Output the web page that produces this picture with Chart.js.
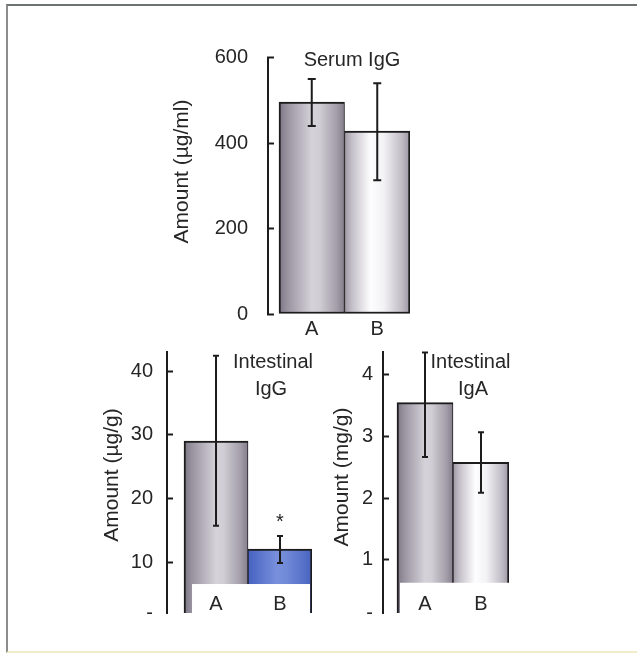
<!DOCTYPE html>
<html>
<head>
<meta charset="utf-8">
<script src="https://cdn.jsdelivr.net/npm/chart.js@4/dist/chart.umd.min.js"></script>
<style>
html,body{margin:0;padding:0;background:#fff;}
#page{position:relative;width:637px;height:655px;overflow:hidden;background:#fff;}
#frame{position:absolute;left:6px;top:4px;width:640px;height:649px;border-top:2px solid #6d7272;border-left:2px solid #8c8c8c;border-bottom:2px solid #f1ecc9;box-sizing:border-box;}
canvas{position:absolute;}
</style>
</head>
<body>
<div id="page">
  <div id="frame"></div>
  <canvas id="serum" width="290" height="305" style="left:150px;top:40px"></canvas>
  <canvas id="intIgG" width="260" height="280" style="left:80px;top:340px"></canvas>
  <canvas id="intIgA" width="240" height="280" style="left:300px;top:340px"></canvas>
</div>
<script>
// ---------- data ----------
const categories = ['A', 'B'];

const serumIgG      = [496, 428];
const serumIgGLow   = [440, 313];
const serumIgGHigh  = [550, 540];
const serumTicks      = [0, 200, 400, 600];
const serumTickLabels = ['0', '200', '400', '600'];

const intIgG      = [29.0, 12.05];
const intIgGLow   = [15.7, 9.85];
const intIgGHigh  = [42.4, 14.1];
const intIgGTicks      = [2, 10, 20, 30, 40];
const intIgGTickLabels = ['-', '10', '20', '30', '40'];

const intIgA      = [3.55, 2.58];
const intIgALow   = [2.67, 2.09];
const intIgAHigh  = [4.36, 3.07];
const intIgATicks      = [0.14, 1, 2, 3, 4];
const intIgATickLabels = ['-', '1', '2', '3', '4'];

const serumTitle   = ['Serum IgG'];
const intIgGTitle  = ['Intestinal', 'IgG'];
const intIgATitle  = ['Intestinal', 'IgA'];
const serumYTitle  = 'Amount (µg/ml)';
const intIgGYTitle = 'Amount (µg/g)';
const intIgAYTitle = 'Amount (mg/g)';
const significance = '*';

// ---------- styles ----------
const FONT = '"Liberation Sans", Arial, Helvetica, sans-serif';
const INK = '#262626';
const LINE = '#1c1c1c';
Chart.defaults.font.family = FONT;
Chart.defaults.color = INK;

const fills = {
  gray:  [[0,'#7b7484'],[0.12,'#98929f'],[0.5,'#d5d2d9'],[0.62,'#d0cdd4'],[0.88,'#a39ea9'],[1,'#847d8c']],
  light: [[0,'#9d98a4'],[0.12,'#c5c1ca'],[0.4,'#fdfdfe'],[0.6,'#f2f1f4'],[0.88,'#bfbbc4'],[1,'#9b96a2']],
  blue:  [[0,'#4562c0'],[0.45,'#7890dc'],[0.6,'#718ad8'],[1,'#4864bf']]
};

function gradientFor(c, fillNames) {
  const chart = c.chart;
  if (!chart.chartArea || !chart.scales.x) return '#bbb';
  const xs = chart.scales.x;
  const i = c.dataIndex;
  const l = xs.getPixelForValue(i), r = xs.getPixelForValue(i + 1);
  const g = chart.ctx.createLinearGradient(l, 0, r, 0);
  fills[fillNames[i]].forEach(([o, col]) => g.addColorStop(o, col));
  return g;
}

function noPad(s) { s.paddingTop = 0; s.paddingBottom = 0; s.paddingLeft = 0; s.paddingRight = 0; }

// ---------- plugins ----------
const labelPatch = {
  id: 'labelPatch',
  afterDatasetsDraw(chart, args, opts) {
    if (opts.from === undefined || opts.from === null) return;
    const {ctx, chartArea} = chart;
    const x = chart.scales.x, y = chart.scales.y;
    const l = x.getPixelForValue(0) + opts.leftInset;
    const r = x.getPixelForValue(categories.length) - opts.rightInset;
    const t = y.getPixelForValue(opts.from);
    ctx.save();
    ctx.fillStyle = '#ffffff';
    ctx.fillRect(l, t, r - l, chartArea.bottom - t);
    ctx.restore();
  }
};

const errorBars = {
  id: 'errorBars',
  afterDatasetsDraw(chart, args, opts) {
    if (!opts.low) return;
    const {ctx} = chart;
    const x = chart.scales.x, y = chart.scales.y;
    const cap = opts.cap || 8;
    ctx.save();
    ctx.strokeStyle = LINE;
    ctx.lineWidth = 2;
    ctx.lineCap = 'butt';
    opts.low.forEach((lo, i) => {
      const hi = opts.high[i];
      const px = x.getPixelForValue(i + 0.5);
      const y1 = y.getPixelForValue(lo), y2 = y.getPixelForValue(hi);
      ctx.beginPath();
      ctx.moveTo(px, y1); ctx.lineTo(px, y2);
      ctx.moveTo(px - cap / 2, y1); ctx.lineTo(px + cap / 2, y1);
      ctx.moveTo(px - cap / 2, y2); ctx.lineTo(px + cap / 2, y2);
      ctx.stroke();
    });
    ctx.restore();
  }
};

const panelText = {
  id: 'panelText',
  afterDraw(chart, args, opts) {
    if (!opts.items) return;
    const {ctx, chartArea} = chart;
    opts.items.forEach(it => {
      ctx.save();
      ctx.font = it.size + 'px ' + FONT;
      ctx.fillStyle = INK;
      ctx.textAlign = 'center';
      ctx.textBaseline = 'middle';
      ctx.translate(chartArea.left + it.dx, chartArea.top + it.dy);
      if (it.rotate) ctx.rotate(it.rotate * Math.PI / 180);
      ctx.fillText(it.text, 0, 0);
      ctx.restore();
    });
  }
};

function makeChart(id, cfg) {
  return new Chart(document.getElementById(id), {
    type: 'bar',
    data: {
      datasets: [{
        data: cfg.values.map((v, i) => ({x: i + 0.5, y: v})),
        backgroundColor: (c) => gradientFor(c, cfg.fills),
        borderColor: LINE,
        borderWidth: (c) => c.dataIndex === 0
          ? {left: 2, right: 1, top: 2, bottom: 2}
          : {left: 1, right: 2, top: 2, bottom: 2},
        borderSkipped: cfg.skip,
        barPercentage: 1,
        categoryPercentage: 1
      }]
    },
    plugins: [labelPatch, errorBars, panelText],
    options: {
      responsive: false,
      animation: false,
      devicePixelRatio: 1,
      layout: {autoPadding: false, padding: {top: cfg.padTop, right: cfg.padRight, left: 0, bottom: 0}},
      scales: {
        x: {
          type: 'linear', min: cfg.xMin, max: categories.length, offset: false,
          afterBuildTicks: (s) => { s.ticks = categories.map((c, i) => ({value: i + 0.5})); },
          ticks: {z: 1, mirror: cfg.xMirror, autoSkip: false, maxRotation: 0, padding: cfg.xPad, color: INK,
                  font: {size: 20}, callback: (v, i) => categories[i]},
          grid: {display: false, drawTicks: false},
          border: {display: false},
          afterFit: (s) => { s.height = cfg.xH; noPad(s); }
        },
        y: {
          min: cfg.yMin, max: cfg.yMax, beginAtZero: false,
          afterBuildTicks: (s) => { s.ticks = cfg.ticks.map(v => ({value: v})); },
          ticks: {autoSkip: false, padding: cfg.yPad, color: INK, font: {size: 20},
                  callback: (v, i) => cfg.tickLabels[i]},
          grid: {display: true, drawOnChartArea: false, drawTicks: true, tickLength: -6, tickWidth: 2,
                 tickColor: (c) => cfg.tickLabels[c.index] === '-' ? 'rgba(0,0,0,0)' : LINE},
          border: {display: true, color: LINE, width: 2},
          afterFit: (s) => { s.width = cfg.yW; noPad(s); }
        }
      },
      plugins: {
        legend: {display: false},
        tooltip: {enabled: false},
        title: {display: false},
        labelPatch: cfg.patch || {},
        errorBars: {low: cfg.low, high: cfg.high, cap: cfg.cap},
        panelText: {items: cfg.texts}
      }
    }
  });
}

makeChart('serum', {
  values: serumIgG, low: serumIgGLow, high: serumIgGHigh, cap: 8,
  ticks: serumTicks, tickLabels: serumTickLabels, yMin: 0, yMax: 600,
  fills: ['gray', 'light'], skip: false,
  xMin: -0.168, yW: 118, xH: 31, padTop: 17.5, padRight: 30, xPad: 3, xMirror: false, yPad: 26,
  texts: [
    {text: serumTitle[0], dx: 84, dy: 2.5, size: 20},
    {text: serumYTitle, dx: -86, dy: 114, size: 21, rotate: -90}
  ]
});

makeChart('intIgG', {
  values: intIgG, low: intIgGLow, high: intIgGHigh, cap: 6,
  ticks: intIgGTicks, tickLabels: intIgGTickLabels, yMin: 2, yMax: 43,
  fills: ['gray', 'blue'], skip: 'start',
  xMin: -0.266, yW: 87, xH: 7, padTop: 12, padRight: 28, xPad: -3.5, xMirror: true, yPad: 20,
  patch: {from: 6.55, leftInset: 8, rightInset: 2},
  texts: [
    {text: intIgGTitle[0], dx: 106, dy: 10.5, size: 20},
    {text: intIgGTitle[1], dx: 104, dy: 37, size: 20},
    {text: significance, dx: 113, dy: 170, size: 20},
    {text: intIgGYTitle, dx: -55, dy: 123, size: 21, rotate: -90}
  ]
});

makeChart('intIgA', {
  values: intIgA, low: intIgALow, high: intIgAHigh, cap: 6,
  ticks: intIgATicks, tickLabels: intIgATickLabels, yMin: 0.14, yMax: 4.37,
  fills: ['gray', 'light'], skip: 'start',
  xMin: -0.25, yW: 83, xH: 7, padTop: 12, padRight: 31, xPad: -3.5, xMirror: true, yPad: 16,
  patch: {from: 0.63, leftInset: 3, rightInset: -3},
  texts: [
    {text: intIgATitle[0], dx: 87.5, dy: 10.5, size: 20},
    {text: intIgATitle[1], dx: 90, dy: 37.5, size: 20},
    {text: intIgAYTitle, dx: -41, dy: 125, size: 21, rotate: -90}
  ]
});
</script>
</body>
</html>
